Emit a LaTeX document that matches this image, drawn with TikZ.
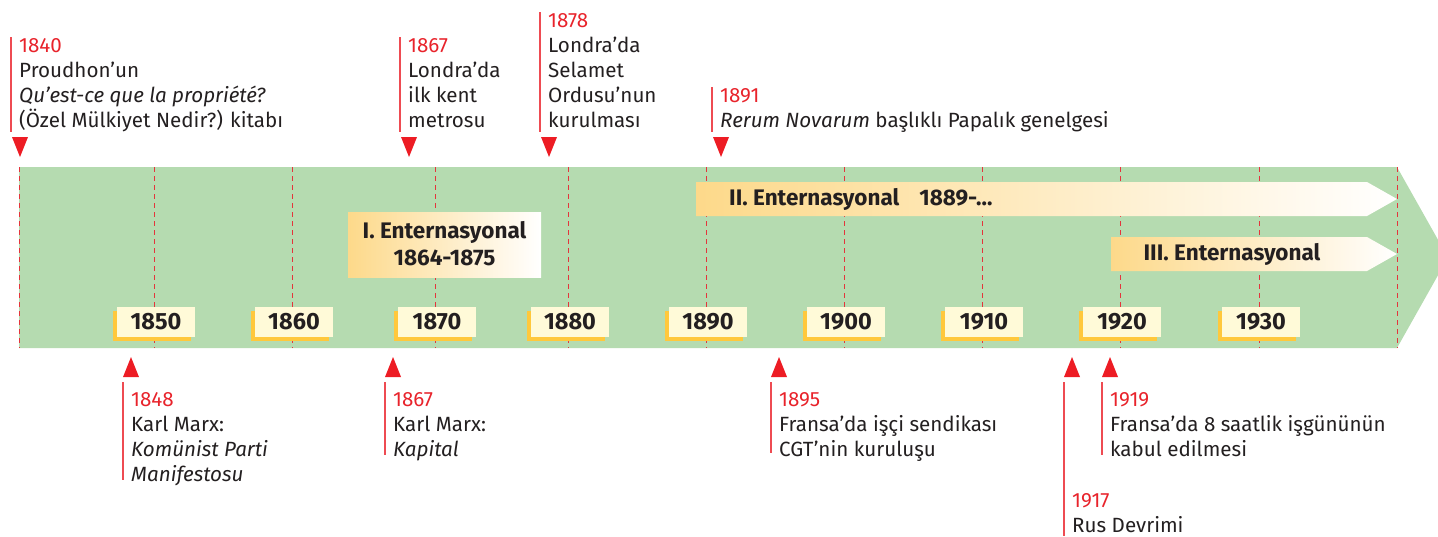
\documentclass[tikz,border=0pt]{standalone}
\usepackage{fontspec}
\setmainfont{Fira Sans}
\definecolor{bandgreen}{HTML}{B5DBB0}
\definecolor{dashred}{HTML}{E4343C}
\definecolor{markred}{HTML}{ED1C24}
\definecolor{linered}{HTML}{EE4B52}
\definecolor{yearred}{HTML}{E8232B}
\definecolor{textdark}{HTML}{231F20}
\definecolor{boxcream}{HTML}{FFFAD8}
\definecolor{boxshadow}{HTML}{FFC83C}
\definecolor{gradorange}{HTML}{FDD98A}
\tikzset{
  dashline/.style={dashred, line width=1pt, dash pattern=on 5pt off 4pt},
  yearbox/.style={fill=boxcream, minimum width=78pt, minimum height=30pt, inner sep=0pt, text=textdark, font=\fontsize{23.5}{28}\selectfont\bfseries},
  markline/.style={linered, line width=1.4pt},
  marktri/.style={fill=markred},
  evtext/.style={anchor=base west, align=left, inner sep=0pt, text=textdark, font=\fontsize{20.6}{25}\selectfont},
  bartext/.style={inner sep=0pt, text=textdark, font=\fontsize{22.5}{27}\selectfont\bfseries},
}
\newcommand{\yr}[1]{\textcolor{yearred}{#1}}
\begin{document}
\begin{tikzpicture}[x=1pt,y=-1pt]
\useasboundingbox (0,0) rectangle (1438,536);
\clip (0,0) rectangle (1438,536);
% band
\fill[bandgreen] (19,167) -- (1397,167) -- (1448,257.5) -- (1397,348) -- (19,348) -- cycle;
\foreach \x in {19,154,292,435,568,706,844,982,1120,1259,1397}
  \draw[dashline] (\x,167) -- (\x,348);
% year boxes
\foreach \c/\y in {156/1850,294/1860,437/1870,570/1880,708/1890,846/1900,984/1910,1122/1920,1261/1930}{
  \fill[boxshadow] (\c-43,311) rectangle (\c+35,341);
  \node[yearbox] (y\y) at (\c,322) {\y};
}
% I. Enternasyonal
\shade[left color=gradorange, right color=white] (348,212) rectangle (541,277);
\node[bartext, align=center] (int1) at (444.5,244) {I. Enternasyonal\\1864-1875};
% II. Enternasyonal
\shade[left color=gradorange, right color=white] (696,182) -- (1367,182) -- (1397,199) -- (1367,216) -- (696,216) -- cycle;
\node[bartext, anchor=west] (int2) at (729,199) {II. Enternasyonal\hspace{20pt}1889-...};
% III. Enternasyonal
\shade[left color=gradorange, right color=white] (1111,237) -- (1367,237) -- (1397,254) -- (1367,271) -- (1111,271) -- cycle;
\node[bartext] (int3) at (1232,254) {III. Enternasyonal};
% top markers
\foreach \L/\a in {11/37,400/37,540/12,712/87}{
  \draw[markline] (\L,\a) -- (\L,132);
  \fill[marktri] (\L+1,137) -- (\L+17,137) -- (\L+9,157) -- cycle;
}
\node[evtext] (e1840) at (19,127) {\yr{1840}\\Proudhon’un\\\textit{Qu’est-ce que la propriété?}\\(Özel Mülkiyet Nedir?) kitabı};
\node[evtext] (e1867a) at (408,127) {\yr{1867}\\Londra’da\\ilk kent\\metrosu};
\node[evtext] (e1878) at (548,127) {\yr{1878}\\Londra’da\\Selamet\\Ordusu’nun\\kurulması};
\node[evtext] (e1891) at (720,127) {\yr{1891}\\\textit{Rerum Novarum} başlıklı Papalık genelgesi};
% bottom markers
\foreach \L/\b in {123/480,385/455,771/453,1064/536,1102/455}{
  \draw[markline] (\L,382) -- (\L,\b);
  \fill[marktri] (\L,377) -- (\L+16,377) -- (\L+8,357) -- cycle;
}
\node[evtext] (e1848) at (131,481) {\yr{1848}\\Karl Marx:\\\textit{Komünist Parti}\\\textit{Manifestosu}};
\node[evtext] (e1867b) at (393,456) {\yr{1867}\\Karl Marx:\\\textit{Kapital}};
\node[evtext] (e1895) at (779,456) {\yr{1895}\\Fransa’da işçi sendikası\\CGT’nin kuruluşu};
\node[evtext] (e1917) at (1072,532) {\yr{1917}\\Rus Devrimi};
\node[evtext] (e1919) at (1110,456) {\yr{1919}\\Fransa’da 8 saatlik işgününün\\kabul edilmesi};
\end{tikzpicture}
\end{document}
